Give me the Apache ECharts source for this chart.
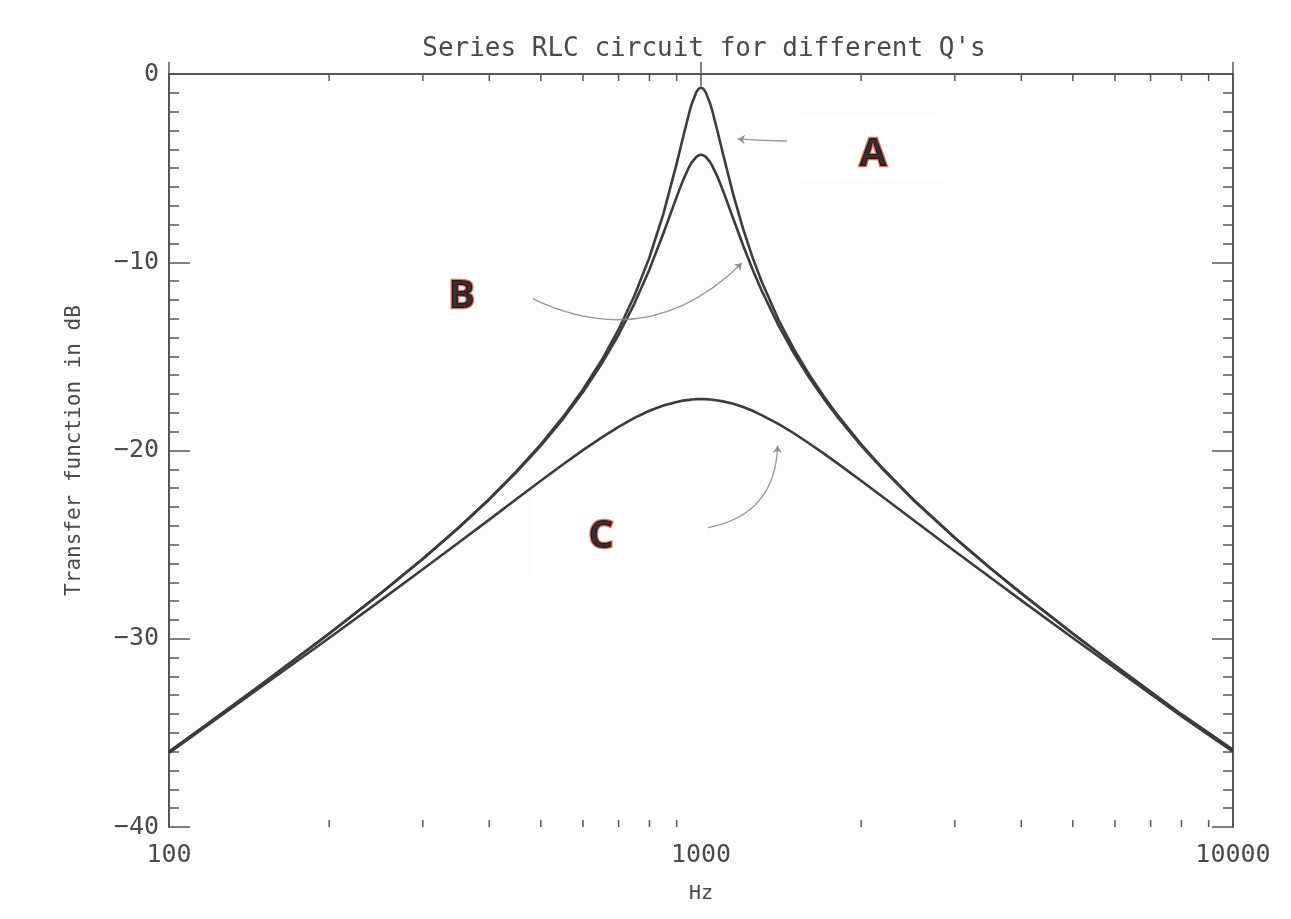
<!DOCTYPE html>
<html>
<head>
<meta charset="utf-8">
<script src="https://cdn.jsdelivr.net/npm/echarts@6/dist/echarts.min.js"></script>
<style>
  html, body { margin: 0; padding: 0; background: #fdfefc; }
  #chart { width: 1291px; height: 919px; }
</style>
</head>
<body>
<div id="chart"></div>
<script>
// Frequency samples (Hz) and the transfer function of each circuit (dB)
const freqHz = [100, 120, 150, 200, 250, 300, 350, 400, 450, 500, 550, 600, 650, 700, 750, 800, 850, 900, 925, 950,
  960, 980, 990, 1000, 1010, 1020, 1040, 1050, 1075, 1100, 1150, 1200, 1250, 1300, 1400, 1500, 1600, 1700, 1800,
  2000, 2200, 2500, 3000, 3500, 4000, 5000, 6000, 7000, 8000, 10000];
const dbA = [-36.0, -34.39, -32.38, -29.72, -27.58, -25.75, -24.1, -22.57, -21.1, -19.67, -18.23, -16.76, -15.22, -13.57, -11.77, -9.74, -7.42, -4.76, -3.37, -2.07,
  -1.62, -0.96, -0.78, -0.72, -0.78, -0.95, -1.56, -1.95, -3.08, -4.25, -6.41, -8.23, -9.74, -11.02, -13.08, -14.69, -16.0, -17.11, -18.07,
  -19.67, -20.97, -22.57, -24.63, -26.25, -27.58, -29.72, -31.42, -32.82, -34.02, -35.9];
const dbB = [-36.0, -34.38, -32.38, -29.73, -27.59, -25.76, -24.12, -22.6, -21.15, -19.74, -18.33, -16.89, -15.41, -13.85, -12.18, -10.38, -8.46, -6.53, -5.65, -4.93,
  -4.71, -4.4, -4.32, -4.29, -4.32, -4.39, -4.68, -4.88, -5.49, -6.2, -7.69, -9.11, -10.38, -11.5, -13.38, -14.9, -16.16, -17.23, -18.17,
  -19.74, -21.02, -22.6, -24.65, -26.26, -27.59, -29.73, -31.42, -32.82, -34.02, -35.9];
const dbC = [-36.06, -34.46, -32.5, -29.96, -27.96, -26.31, -24.9, -23.67, -22.58, -21.61, -20.74, -19.98, -19.32, -18.75, -18.27, -17.89, -17.61, -17.42, -17.35, -17.31,
  -17.29, -17.27, -17.27, -17.27, -17.27, -17.27, -17.29, -17.3, -17.34, -17.39, -17.52, -17.69, -17.89, -18.12, -18.6, -19.11, -19.64, -20.15, -20.66,
  -21.61, -22.48, -23.67, -25.35, -26.75, -27.96, -29.96, -31.57, -32.93, -34.11, -36.0];

// Axis ranges and the intermediate decade ticks of the log axis
const xRange = [100, 10000];
const yRange = [-40, 0];
const yStep = 10;
const xMinorTickHz = [200, 300, 400, 500, 600, 700, 800, 900, 2000, 3000, 4000, 5000, 6000, 7000, 8000, 9000];

// Curve letters: [Hz, dB, text], the white boxes behind them: [Hz, dB], and pointer arrows: [[Hz, dB], [Hz, dB]]
const labelMarks = [[2105, -4.3, 'A'], [355, -11.85, 'B'], [649, -24.6, 'C']];
const labelBoxes = [[2092, -3.96], [320, -11.58], [703, -24.54]];
const labelBoxSizes = [[143, 63], [185, 60], [173, 78]];
const pointerArrows = [
  [[1451, -3.56], [1173, -3.45]],
  [[483, -11.95], [1194, -10.04]],
  [[1031, -24.1], [1393, -19.75]]
];
const pointerBends = [0.02, -0.35, -0.4];

const MONO = '"DejaVu Sans Mono", "Liberation Mono", monospace';
const INK = '#4a4a4a';
const FRAME = '#555';
const CURVE = '#3c3c3c';

const chart = echarts.init(document.getElementById('chart'), null, { renderer: 'canvas' });

const zip = (ys) => freqHz.map((f, i) => [f, ys[i]]);
const minus = (v) => (v < 0 ? '\u2212' + Math.abs(v) : String(v));

const curve = (name, ys) => ({
  name, type: 'line', data: zip(ys), showSymbol: false, smooth: false,
  lineStyle: { color: CURVE, width: 2.6, join: 'round' }, itemStyle: { color: CURVE }, z: 3, silent: true
});

const option = {
  backgroundColor: '#fdfefc',
  animation: false,
  title: {
    text: "Series RLC circuit for different Q's",
    left: 699, top: 31, textAlign: 'center',
    textStyle: { fontFamily: MONO, fontSize: 26, fontWeight: 'normal', color: INK }
  },
  grid: { left: 169, right: 58, top: 74, bottom: 92, containLabel: false },
  xAxis: [
    {
      type: 'log', logBase: 10, min: xRange[0], max: xRange[1], position: 'bottom',
      name: 'Hz', nameLocation: 'middle', nameGap: 57,
      nameTextStyle: { fontFamily: MONO, fontSize: 20, color: INK },
      axisLine: { show: true, lineStyle: { color: FRAME, width: 2 } },
      axisTick: { show: true, inside: true, length: 12, lineStyle: { color: FRAME, width: 1.5 } },
      axisLabel: { show: true, margin: 16, fontFamily: MONO, fontSize: 25, color: INK, formatter: (v) => String(Math.round(v)) },
      splitLine: { show: false }
    },
    {
      type: 'log', logBase: 10, min: xRange[0], max: xRange[1], position: 'top',
      axisLine: { show: true, lineStyle: { color: FRAME, width: 2 } },
      axisTick: { show: true, inside: true, length: 12, lineStyle: { color: FRAME, width: 1.5 } },
      axisLabel: { show: false },
      splitLine: { show: false }
    }
  ],
  yAxis: [
    {
      type: 'value', min: yRange[0], max: yRange[1], interval: yStep, position: 'left',
      name: 'Transfer function in dB', nameLocation: 'middle', nameGap: 84, nameRotate: 90,
      nameTextStyle: { fontFamily: MONO, fontSize: 21, color: INK },
      axisLine: { show: true, lineStyle: { color: FRAME, width: 2 } },
      axisTick: { show: true, inside: true, length: 21, lineStyle: { color: FRAME, width: 1.5 } },
      minorTick: { show: true, splitNumber: 10, length: 10, lineStyle: { color: FRAME, width: 1.5 } },
      axisLabel: { show: true, margin: 10, fontFamily: MONO, fontSize: 25, color: INK, formatter: minus },
      splitLine: { show: false }, minorSplitLine: { show: false }
    },
    {
      type: 'value', min: yRange[0], max: yRange[1], interval: yStep, position: 'right',
      axisLine: { show: true, lineStyle: { color: FRAME, width: 2 } },
      axisTick: { show: true, inside: true, length: 21, lineStyle: { color: FRAME, width: 1.5 } },
      minorTick: { show: true, splitNumber: 10, length: 10, lineStyle: { color: FRAME, width: 1.5 } },
      axisLabel: { show: false },
      splitLine: { show: false }, minorSplitLine: { show: false }
    }
  ],
  series: [
    // Intermediate decade ticks (2..9 × 10^n) on the bottom and top frame edges
    {
      type: 'custom', name: 'decade ticks', coordinateSystem: 'cartesian2d',
      xAxisIndex: 0, yAxisIndex: 0, silent: true, clip: false, z: 6,
      data: xMinorTickHz.map((f) => [f, yRange[0]]),
      encode: { x: 0, y: 1 },
      renderItem(params, api) {
        const f = api.value(0);
        const b = api.coord([f, yRange[0]]);
        const t = api.coord([f, yRange[1]]);
        const len = 7;
        const style = { stroke: FRAME, lineWidth: 1.5 };
        return {
          type: 'group',
          children: [
            { type: 'line', shape: { x1: b[0], y1: b[1], x2: b[0], y2: b[1] - len }, style },
            { type: 'line', shape: { x1: t[0], y1: t[1], x2: t[0], y2: t[1] + len }, style }
          ]
        };
      }
    },
    curve('A', dbA),
    curve('B', dbB),
    curve('C', dbC),
    // White boxes behind the curve letters
    {
      type: 'scatter', name: 'label boxes', silent: true, z: 2,
      symbol: 'rect',
      data: labelBoxes.map((p, i) => ({ value: p, symbolSize: labelBoxSizes[i] })),
      itemStyle: { color: '#ffffff', opacity: 1 }
    },
    // Curve letters
    {
      type: 'scatter', name: 'labels', silent: true, z: 8,
      symbolSize: 1,
      itemStyle: { color: 'rgba(0,0,0,0)' },
      data: labelMarks.map((m) => ({ value: [m[0], m[1]], name: m[2] })),
      label: {
        show: true, position: 'inside', formatter: (p) => p.name,
        fontFamily: '"Open Sans", "Noto Sans", sans-serif', fontWeight: 'bold', fontSize: 40,
        color: '#000', textBorderColor: '#e2483b', textBorderWidth: 2.5
      }
    },
    // Pointers from the letters to the curves
    {
      type: 'lines', name: 'pointers', coordinateSystem: 'cartesian2d', silent: true, z: 7,
      symbol: ['none', 'arrow'], symbolSize: 7,
      data: pointerArrows.map((c, i) => ({ coords: c, lineStyle: { curveness: pointerBends[i] } })),
      lineStyle: { color: '#8c8c8c', width: 1.3, opacity: 0.9 }
    }
  ]
};

chart.setOption(option);
</script>
</body>
</html>
